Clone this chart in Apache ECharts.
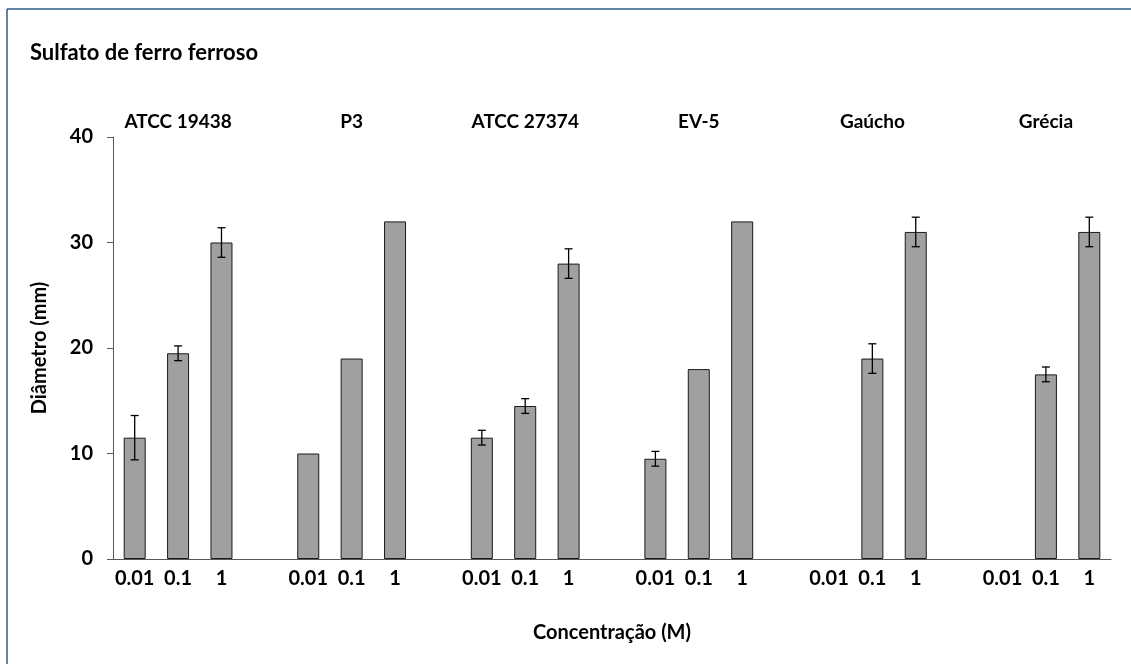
<!DOCTYPE html>
<html>
<head>
<meta charset="utf-8">
<title>Sulfato de ferro ferroso</title>
<script src="https://cdn.jsdelivr.net/npm/echarts@6/dist/echarts.min.js"></script>
<style>
  html, body { margin: 0; padding: 0; background: #fff; }
  #chart { width: 1131px; height: 664px; }
</style>
</head>
<body>
<div id="chart"></div>
<script>
// grupos (cepas) e concentrações
var groups = ['ATCC 19438', 'P3', 'ATCC 27374', 'EV-5', 'Gaúcho', 'Grécia'];
var concentrations = ['0.01', '0.1', '1'];

// diâmetro médio (mm) por grupo, na ordem das concentrações (null = sem barra)
var means = [
  [11.5, 19.5, 30],
  [10, 19, 32],
  [11.5, 14.5, 28],
  [9.5, 18, 32],
  [null, 19, 31],
  [null, 17.5, 31]
];

// desvio (mm) por grupo, 0 = sem barra de erro
var errors = [
  [2.1, 0.7, 1.4],
  [0, 0, 0],
  [0.7, 0.7, 1.4],
  [0.7, 0, 0],
  [0, 1.4, 1.4],
  [0, 0.7, 1.4]
];

var yTicks = [0, 10, 20, 30, 40];

// monta as categorias: 3 concentrações + 1 espaço por grupo
var cats = [], bottomLabels = [], topLabels = [], barData = [], errData = [];
groups.forEach(function (g, gi) {
  concentrations.forEach(function (c, ci) {
    var idx = cats.length;
    cats.push('c' + idx);
    bottomLabels.push(c);
    topLabels.push(ci === 1 ? g : '');
    barData.push(means[gi][ci]);
    if (errors[gi][ci] > 0) {
      errData.push([idx, means[gi][ci] - errors[gi][ci], means[gi][ci] + errors[gi][ci]]);
    }
  });
  if (gi < groups.length - 1) {
    cats.push('c' + cats.length);
    bottomLabels.push('');
    topLabels.push('');
    barData.push(null);
  }
});

var font = 'Lato, "Open Sans", sans-serif';
var txt = function (size) {
  return { fontFamily: font, fontSize: size, fontWeight: 'bold', color: '#000' };
};

var chart = echarts.init(document.getElementById('chart'));

chart.setOption({
  animation: false,
  title: {
    text: 'Sulfato de ferro ferroso',
    left: 25,
    top: 37,
    textStyle: txt(22)
  },
  graphic: [
    { type: 'line', shape: { x1: 7, y1: 9, x2: 1131, y2: 9 }, style: { stroke: '#2e5c87', lineWidth: 1.5 } },
    { type: 'line', shape: { x1: 7, y1: 9, x2: 7, y2: 664 }, style: { stroke: '#2e5c87', lineWidth: 1.5 } }
  ],
  grid: { left: 113, right: 20, top: 137, bottom: 105, containLabel: false },
  xAxis: [{
    type: 'category',
    data: cats,
    position: 'bottom',
    name: 'Concentração (M)',
    nameLocation: 'middle',
    nameGap: 64,
    nameTextStyle: txt(20),
    axisLine: { lineStyle: { color: '#595959', width: 1 } },
    axisTick: { length: 5, lineStyle: { color: '#595959' } },
    axisLabel: Object.assign({
      interval: 0,
      margin: 10,
      formatter: function (v, i) { return bottomLabels[i]; }
    }, txt(20))
  }, {
    type: 'category',
    data: cats,
    position: 'top',
    axisLine: { show: false },
    axisTick: { show: false },
    axisLabel: Object.assign({
      interval: 0,
      margin: 6,
      formatter: function (v, i) { return topLabels[i]; }
    }, txt(19))
  }],
  yAxis: {
    type: 'value',
    min: yTicks[0],
    max: yTicks[yTicks.length - 1],
    interval: 10,
    name: 'Diâmetro (mm)',
    nameLocation: 'middle',
    nameGap: 63,
    nameTextStyle: txt(20),
    axisLine: { show: true, lineStyle: { color: '#595959', width: 1 } },
    axisTick: { show: true, length: 6, lineStyle: { color: '#595959' } },
    splitLine: { show: false },
    axisLabel: Object.assign({ margin: 20 }, txt(20))
  },
  series: [{
    type: 'bar',
    data: barData,
    barWidth: 22,
    itemStyle: { color: '#a0a0a0', borderColor: '#1a1a1a', borderWidth: 1 }
  }, {
    type: 'custom',
    data: errData,
    z: 10,
    renderItem: function (params, api) {
      var x = api.value(0);
      var lo = api.coord([x, api.value(1)]);
      var hi = api.coord([x, api.value(2)]);
      var cap = 4;
      var st = { stroke: '#000', lineWidth: 1.3 };
      return {
        type: 'group',
        children: [
          { type: 'line', shape: { x1: lo[0], y1: lo[1], x2: hi[0], y2: hi[1] }, style: st },
          { type: 'line', shape: { x1: lo[0] - cap, y1: lo[1], x2: lo[0] + cap, y2: lo[1] }, style: st },
          { type: 'line', shape: { x1: hi[0] - cap, y1: hi[1], x2: hi[0] + cap, y2: hi[1] }, style: st }
        ]
      };
    }
  }]
});
</script>
</body>
</html>
